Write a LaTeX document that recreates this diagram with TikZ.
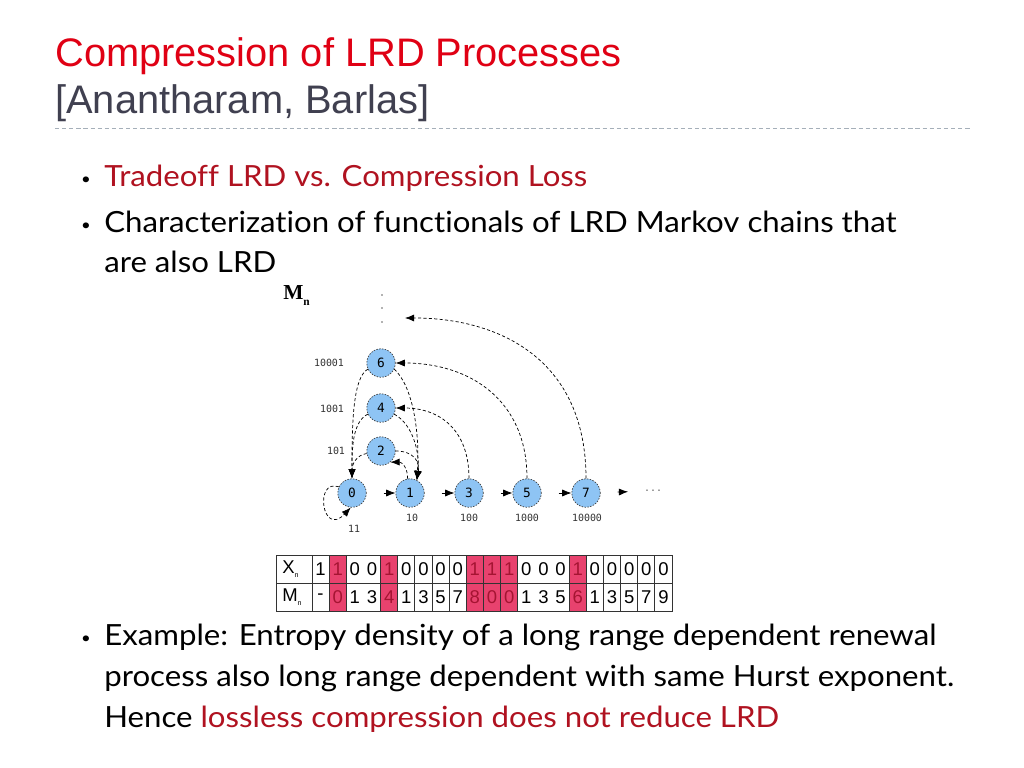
\documentclass[tikz,border=0pt]{standalone}
\usepackage{fontspec}
\setmainfont{Lato}[Ligatures=NoCommon, FakeStretch=1.07]
\newfontfamily\titlefont{Liberation Sans}
\newfontfamily\monofont{DejaVu Sans Mono}
\newfontfamily\serifbold{Liberation Serif}
\usetikzlibrary{arrows.meta}
\definecolor{titlered}{RGB}{224,0,20}
\definecolor{subgray}{RGB}{64,64,80}
\definecolor{bulletred}{RGB}{176,18,32}
\definecolor{sepgray}{RGB}{165,175,185}
\definecolor{nodeblue}{RGB}{142,196,244}
\definecolor{pinkcell}{RGB}{232,66,110}
\definecolor{pinktext}{RGB}{165,20,50}
\tikzset{
  titletext/.style={anchor=base west, inner sep=0, font=\titlefont\fontsize{28pt}{30pt}\selectfont},
  bodytext/.style={anchor=base west, inner sep=0, font=\fontsize{20.5pt}{24pt}\selectfont},
  bulletmark/.style={anchor=base, inner sep=0, font=\fontsize{11pt}{11pt}\selectfont},
  state/.style={circle, fill=nodeblue, draw=black!75, dash pattern=on 1pt off 1pt, line width=0.5pt,
    minimum size=20pt, inner sep=0, font=\monofont\fontsize{9pt}{9pt}\selectfont},
  lbl/.style={inner sep=0, font=\monofont\fontsize{7pt}{8pt}\selectfont, text=black!80},
  arr/.style={-{Latex[length=6.5pt,width=5pt]}, dash pattern=on 2.2pt off 1.6pt, line width=0.5pt},
  straight/.style={arr, shorten <=12pt},
  tabtext/.style={inner sep=0, font=\titlefont\fontsize{13pt}{13pt}\selectfont},
  grid line/.style={black!80, line width=0.6pt},
}
\begin{document}
\begin{tikzpicture}[x=0.703125pt,y=-0.703125pt]
\useasboundingbox[fill=white] (0,0) rectangle (1024,768);

% title
\node[titletext, text=titlered] (title) at (55,67) {Compression of LRD Processes};
\node[titletext, text=subgray] (subtitle) at (55,114) {[Anantharam, Barlas]};
\draw[sepgray, line width=0.6pt, dash pattern=on 3pt off 2pt] (55,128) -- (972,128);

% bullets
\node[bulletmark] (d1) at (86,185) {•};
\node[bulletmark] (d2) at (86,231) {•};
\node[bulletmark] (d3) at (86,643) {•};
\node[bodytext, text=bulletred] (b1) at (104,187) {Tradeoff LRD vs. Compression Loss};
\node[bodytext] (b2) at (104,233) {Characterization of functionals of LRD Markov chains that};
\node[bodytext] (b2b) at (104,273) {are also LRD};
\node[bodytext] (b3) at (104,645) {Example: Entropy density of a long range dependent renewal};
\node[bodytext] (b3b) at (104,686) {process also long range dependent with same Hurst exponent.};
\node[bodytext] (b3c) at (104,727) {Hence {\color{bulletred}lossless compression does not reduce LRD}};

% diagram
\node[inner sep=0, anchor=base west] (mn) at (283,300) {{\serifbold\bfseries\fontsize{15pt}{15pt}\selectfont M}\raisebox{-4pt}{\serifbold\bfseries\fontsize{8pt}{8pt}\selectfont n}};
\foreach \yy in {295,308,322} \fill[black!60] (382,\yy) circle (0.9);
\coordinate (top) at (405,318);

\node[state] (n6) at (381,363) {6};
\node[state] (n4) at (381,408) {4};
\node[state] (n2) at (381,451) {2};
\node[state] (n0) at (352,493) {0};
\node[state] (n1) at (410,493) {1};
\node[state] (n3) at (469,493) {3};
\node[state] (n5) at (527,493) {5};
\node[state] (n7) at (586,493) {7};
\node[lbl, text=black!60] (dots) at (653,491) {...};

\node[lbl] (l6) at (329,363) {10001};
\node[lbl] (l4) at (332,409) {1001};
\node[lbl] (l2) at (336,451) {101};
\node[lbl] (l0) at (354,529) {11};
\node[lbl] (l1) at (412,518) {10};
\node[lbl] (l3) at (469,518) {100};
\node[lbl] (l5) at (527,518) {1000};
\node[lbl] (l7) at (587,518) {10000};

% long arcs
\draw[arr] (n7.north) .. controls (586,360) and (500,318) .. (top);
\draw[arr] (n5.north) .. controls (527,400) and (470,363) .. (n6.east);
\draw[arr] (n3.north) .. controls (469,430) and (440,408) .. (n4.east);
% to node 1
\draw[arr] (n6.-25) .. controls (412,385) and (420,430) .. (n1.62);
\draw[arr] (n4.-25) .. controls (414,425) and (420,455) .. (n1.62);
\draw[arr] (n2.east) .. controls (414,451) and (420,462) .. (n1.62);
\draw[arr] (n1.100) .. controls (408,468) and (402,462) .. (n2.-50);
% to node 0
\draw[arr] (n6.205) .. controls (352,378) and (352,430) .. (n0.north);
\draw[arr] (n4.205) .. controls (352,422) and (352,450) .. (n0.north);
\draw[arr] (n2.190) .. controls (356,455) and (352,465) .. (n0.north);
% self loop
\draw[arr] (n0.155) .. controls (314,478) and (322,538) .. (n0.-95);
% chain
\draw[straight] (n0) -- (n1);
\draw[straight] (n1) -- (n3);
\draw[straight] (n3) -- (n5);
\draw[straight] (n5) -- (n7);
\draw[straight, shorten >=11pt] (n7) -- (dots);

% table
\foreach \c in {2,5,10,11,12,16}
  \fill[pinkcell] ({312+(\c-1)*360/21},555) rectangle ({312+\c*360/21},611);
\draw[grid line, line width=0.7pt] (276,555) rectangle (672,611);
\draw[grid line] (276,583) -- (672,583);
\draw[grid line] (312,555) -- (312,611);
\foreach \c in {1,2,4,5,6,7,8,9,10,11,12,15,16,17,18,19,20}
  \draw[grid line] ({312+\c*360/21},555) -- ({312+\c*360/21},611);
\node[tabtext, anchor=west] (xn) at (282,569) {X\raisebox{-3pt}{\fontsize{5pt}{5pt}\selectfont n}};
\node[tabtext, anchor=west] (mnt) at (282,597) {M\raisebox{-3pt}{\fontsize{5pt}{5pt}\selectfont n}};
\foreach \v [count=\i] in {1,1,0,0,1,0,0,0,0,1,1,1,0,0,0,1,0,0,0,0,0} {
  \pgfmathsetmacro{\cx}{312+(\i-0.5)*360/21}
  \ifnum\i=2 \def\tc{pinktext}\else\ifnum\i=5 \def\tc{pinktext}\else\ifnum\i=10 \def\tc{pinktext}\else\ifnum\i=11 \def\tc{pinktext}\else\ifnum\i=12 \def\tc{pinktext}\else\ifnum\i=16 \def\tc{pinktext}\else\def\tc{black}\fi\fi\fi\fi\fi\fi
  \node[tabtext, text=\tc] (x\i) at (\cx,569) {\v};
}
\foreach \v [count=\i] in {-,0,1,3,4,1,3,5,7,8,0,0,1,3,5,6,1,3,5,7,9} {
  \pgfmathsetmacro{\cx}{312+(\i-0.5)*360/21}
  \ifnum\i=2 \def\tc{pinktext}\else\ifnum\i=5 \def\tc{pinktext}\else\ifnum\i=10 \def\tc{pinktext}\else\ifnum\i=11 \def\tc{pinktext}\else\ifnum\i=12 \def\tc{pinktext}\else\ifnum\i=16 \def\tc{pinktext}\else\def\tc{black}\fi\fi\fi\fi\fi\fi
  \node[tabtext, text=\tc] (m\i) at (\cx,597) {\v};
}
\end{tikzpicture}
\end{document}
